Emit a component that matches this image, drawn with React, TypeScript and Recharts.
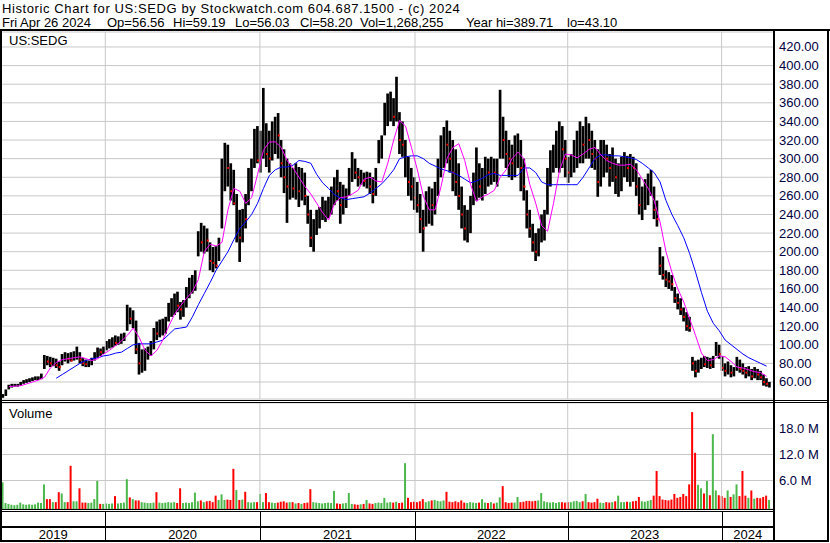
import { ComposedChart, Bar, Line, XAxis, YAxis, CartesianGrid, ReferenceLine } from 'recharts';

// weekly bars, late Apr 2019 -> Apr 26 2024
const weekHigh = [
  47, 52, 57, 58, 58, 58, 60, 62, 63, 64,
  65, 66, 66, 69, 89, 88, 87, 86, 85, 82,
  90, 92, 91, 92, 93, 98, 92, 86, 84, 83,
  86, 92, 97, 96, 98, 104, 106, 108, 110, 109,
  112, 113, 143, 140, 137, 126, 102, 95, 96, 98,
  104, 118, 125, 127, 128, 130, 145, 150, 155, 157,
  146, 148, 162, 172, 175, 180, 222, 231, 228, 225,
  210, 205, 206, 215, 300, 317, 315, 295, 288, 262,
  245, 246, 262, 290, 300, 332, 335, 330, 376, 338,
  330, 340, 345, 349, 320, 310, 300, 295, 290, 295,
  291, 290, 285, 260, 245, 235, 245, 248, 259, 255,
  259, 270, 280, 288, 275, 272, 268, 290, 307, 300,
  290, 288, 285, 286, 285, 280, 290, 320, 325, 360,
  370, 372, 365, 388, 350, 340, 320, 302, 290, 280,
  275, 262, 245, 265, 270, 268, 275, 300, 325, 334,
  341, 330, 320, 310, 295, 270, 250, 245, 260, 285,
  312, 295, 290, 302, 300, 302, 300, 300, 374, 345,
  330, 320, 315, 325, 327, 320, 300, 266, 245, 230,
  220, 225, 240, 245, 290, 309, 315, 330, 340, 335,
  320, 302, 305, 320, 330, 340, 335, 345, 338, 330,
  320, 310, 320, 320, 315, 305, 312, 300, 295, 302,
  307, 303, 305, 302, 295, 280, 270, 278, 284, 288,
  270, 255, 205, 195, 180, 178, 175, 162, 155, 150,
  140, 135, 130, 87, 83, 84, 86, 88, 87, 86,
  88, 103, 100, 88, 80, 82, 78, 76, 87, 84,
  80, 76, 77, 74, 76, 74, 72, 68, 64, 60,
];
const weekLow = [
  43, 45, 52, 54, 55, 55, 56, 58, 59, 60,
  61, 62, 62, 63, 74, 78, 76, 77, 75, 72,
  78, 82, 80, 82, 83, 84, 80, 77, 76, 76,
  78, 83, 86, 88, 90, 94, 96, 97, 99, 100,
  101, 104, 115, 122, 118, 90, 68, 70, 72, 84,
  88, 95, 105, 108, 110, 112, 125, 130, 132, 135,
  127, 130, 140, 150, 155, 158, 195, 200, 198, 200,
  180, 178, 182, 190, 225, 265, 270, 255, 250, 210,
  189, 210, 225, 250, 265, 290, 295, 285, 300, 291,
  285, 298, 305, 300, 280, 263, 231, 256, 258, 256,
  248, 255, 250, 230, 205, 200, 218, 225, 234, 232,
  236, 240, 250, 255, 230, 240, 247, 260, 275, 278,
  270, 272, 270, 268, 262, 252, 260, 295, 300, 325,
  335, 340, 335, 340, 305, 302, 280, 260, 255, 245,
  242, 220, 200, 227, 230, 228, 240, 260, 280, 290,
  295, 285, 265, 260, 245, 225, 212, 210, 220, 250,
  255, 258, 255, 262, 270, 272, 275, 270, 300, 300,
  290, 280, 277, 280, 290, 265, 255, 225, 215, 200,
  190, 195, 210, 212, 240, 270, 285, 290, 285, 290,
  280, 274, 280, 285, 290, 295, 295, 300, 300, 290,
  288, 259, 270, 280, 285, 270, 275, 262, 259, 265,
  280, 275, 270, 275, 260, 240, 234, 245, 250, 260,
  235, 227, 175, 170, 162, 160, 158, 145, 138, 132,
  125, 115, 114, 72, 65, 70, 74, 76, 75, 74,
  75, 88, 85, 72, 66, 68, 65, 66, 72, 70,
  68, 64, 66, 62, 64, 62, 62, 56, 55, 54,
];
const weekClose = [
  45, 50, 56, 56, 56, 57, 59, 60, 62, 62,
  63, 64, 64, 67, 86, 82, 80, 82, 78, 76,
  86, 88, 85, 83, 89, 92, 84, 80, 79, 80,
  84, 90, 94, 92, 95, 100, 103, 104, 102, 104,
  108, 110, 135, 128, 130, 95, 80, 88, 90, 92,
  100, 114, 112, 120, 122, 125, 140, 145, 150, 142,
  138, 145, 158, 165, 170, 175, 215, 210, 220, 212,
  190, 188, 185, 205, 280, 300, 290, 265, 252, 256,
  215, 240, 235, 280, 290, 320, 298, 300, 340, 305,
  300, 320, 330, 325, 295, 280, 270, 285, 268, 280,
  265, 275, 260, 240, 215, 220, 235, 240, 245, 248,
  250, 262, 270, 265, 250, 258, 260, 282, 295, 285,
  280, 282, 276, 280, 270, 262, 285, 310, 318, 345,
  350, 360, 345, 350, 320, 315, 318, 275, 270, 258,
  250, 235, 225, 245, 255, 250, 260, 290, 310, 320,
  315, 300, 285, 275, 260, 240, 225, 230, 250, 270,
  285, 270, 275, 290, 285, 290, 285, 290, 340, 320,
  305, 300, 295, 310, 315, 290, 270, 240, 225, 210,
  200, 215, 225, 235, 280, 295, 300, 315, 320, 310,
  300, 285, 295, 310, 318, 320, 315, 325, 320, 305,
  300, 275, 300, 305, 300, 290, 300, 280, 285, 290,
  295, 290, 295, 290, 270, 250, 255, 265, 270, 275,
  245, 235, 185, 175, 170, 168, 165, 150, 145, 138,
  130, 120, 118, 80, 72, 78, 80, 79, 82, 78,
  85, 98, 90, 75, 72, 76, 70, 72, 82, 74,
  72, 70, 72, 66, 70, 68, 65, 60, 58, 58,
];
// volume in millions of shares
const weekVolume = [
  5.6, 0.8, 0.6, 0.4, 0.3, 0.4, 0.9, 0.5, 0.4, 0.5,
  0.4, 0.5, 0.9, 0.8, 5.1, 1.7, 1.7, 1.0, 1.0, 3.3,
  3.0, 1.0, 1.0, 9.4, 1.2, 1.2, 4.2, 0.9, 0.9, 0.8,
  0.9, 1.7, 5.9, 0.6, 0.6, 0.7, 0.6, 0.7, 2.4, 0.7,
  0.8, 0.9, 6.3, 2.1, 1.7, 1.4, 1.4, 1.0, 0.9, 0.8,
  0.8, 0.9, 3.3, 0.9, 0.8, 0.9, 1.0, 0.9, 1.0, 0.8,
  4.2, 0.8, 0.9, 0.8, 1.0, 3.2, 1.2, 1.4, 1.0, 1.2,
  1.3, 1.0, 2.5, 1.5, 2.8, 1.5, 1.6, 1.5, 8.7, 3.8,
  1.5, 1.6, 3.4, 1.0, 0.9, 1.0, 1.0, 2.9, 1.0, 3.1,
  1.0, 0.9, 0.8, 0.9, 1.1, 1.2, 0.9, 1.0, 1.0, 0.7,
  0.8, 0.6, 0.8, 0.9, 4.0, 1.0, 0.9, 0.8, 0.7, 0.8,
  0.9, 0.8, 3.6, 0.7, 0.6, 0.7, 0.8, 3.1, 0.6, 0.5,
  0.4, 0.5, 0.6, 1.5, 0.7, 0.6, 0.8, 0.9, 0.8, 2.0,
  0.9, 1.0, 0.9, 1.1, 0.8, 0.9, 10.0, 2.0, 1.0, 1.1,
  1.0, 1.2, 1.7, 1.0, 1.2, 1.4, 1.5, 1.3, 1.2, 1.4,
  3.4, 1.1, 1.0, 1.2, 1.0, 1.4, 0.9, 0.8, 1.0, 0.9,
  0.8, 0.9, 1.7, 0.9, 0.8, 1.0, 0.7, 0.9, 2.1, 4.7,
  1.0, 0.8, 0.9, 0.9, 2.2, 1.0, 1.1, 1.3, 1.3, 1.2,
  1.3, 1.4, 3.1, 1.2, 1.0, 0.9, 1.0, 0.8, 1.0, 1.0,
  0.9, 1.0, 1.0, 1.2, 1.3, 1.0, 1.2, 2.9, 1.0, 0.9,
  1.0, 1.8, 0.9, 0.8, 1.0, 0.9, 1.0, 1.2, 2.5, 1.0,
  1.0, 1.1, 1.0, 1.2, 1.3, 2.2, 1.2, 1.1, 1.3, 1.5,
  2.5, 8.2, 2.4, 1.6, 1.5, 1.4, 1.6, 2.9, 2.0, 2.2,
  2.9, 2.4, 5.1, 21.8, 12.4, 5.0, 4.2, 3.0, 5.9, 2.6,
  16.7, 3.7, 2.6, 2.4, 2.0, 3.7, 2.2, 2.8, 5.1, 2.4,
  8.2, 2.5, 2.0, 3.7, 1.8, 2.0, 1.9, 2.2, 2.5, 1.5,
];
// moving averages, read every second week
const maShort = [
  null, 55, 55.5, 56, 58, 60, 62, 65, 75, 81,
  84, 85, 86, 87, 85, 83, 85, 90, 94, 99,
  104, 110, 118, 108, 94, 88, 94, 105, 120, 133,
  142, 150, 157, 170, 200, 208, 206, 210, 245, 268,
  265, 252, 258, 283, 309, 318, 318, 312, 298, 290,
  280, 270, 262, 252, 242, 234, 252, 258, 259, 262,
  266, 278, 280, 276, 275, 295, 320, 341, 335, 312,
  288, 260, 245, 245, 270, 300, 312, 316, 298, 272,
  254, 259, 262, 266, 280, 288, 300, 307, 300, 272,
  252, 228, 222, 252, 287, 305, 304, 301, 305, 310,
  312, 304, 298, 295, 293, 293, 294, 288, 278, 268,
  255, 232, 200, 178, 160, 146, 128, 110, 91, 83,
  84, 88, 87, 82, 76, 75, 73, 71, 70, 66,
];
const maLong = [
  null, null, null, null, null, null, null, null, null, 64,
  68, 72, 76, 80, 83, 85, 86, 88, 89, 91,
  92, 96, 100, 101, 101, 101, 103, 105, 111, 117,
  118, 119, 130, 143, 155, 167, 180, 190, 200, 213,
  225, 232, 240, 252, 268, 282, 288, 291, 291, 293,
  298, 297, 295, 283, 274, 268, 261, 258, 256, 257,
  258, 259, 263, 268, 273, 280, 288, 300, 302, 303,
  303, 300, 295, 292, 289, 287, 285, 282, 278, 274,
  276, 279, 283, 284, 282, 282, 282, 282, 290, 290,
  285, 275, 272, 272, 272, 272, 272, 272, 280, 290,
  300, 304, 304, 303, 303, 302, 301, 299, 295, 290,
  285, 275, 255, 240, 228, 215, 198, 178, 156, 136,
  123, 115, 105, 100, 95, 90, 86, 83, 80, 77,
];

const priceTicks = [60, 80, 100, 120, 140, 160, 180, 200, 220, 240, 260, 280, 300, 320, 340, 360, 380, 400, 420];
const volumeTicks = [6, 12, 18];
const years = ['2019', '2020', '2021', '2022', '2023', '2024'];
// week index where each new calendar year begins
const yearStarts = [34.56, 86.8, 139.2, 190.8, 242.8];
const quoteFields = [
  'Fri Apr 26 2024', 'Op=56.56', 'Hi=59.19', 'Lo=56.03', 'Cl=58.20',
  'Vol=1,268,255', 'Year hi=389.71', 'lo=43.10',
];
const quoteX = [2, 107, 173, 235, 300, 360, 466, 567];

const X_DOMAIN: [number, number] = [-0.68, 260.5];
const PLOT_L = 1;
const PLOT_W = 773;
const RED = '#ff0000';
const GREEN = '#4cb84c';
const GRID = '#c8c8c8';
const FONT = "'Liberation Sans', Arial, sans-serif";

const data = weekHigh.map((h, i) => ({
  i,
  h,
  l: weekLow[i],
  c: weekClose[i],
  v: weekVolume[i],
  up: i === 0 || weekClose[i] >= weekClose[i - 1],
  ms: i % 2 === 0 ? maShort[i / 2] : null,
  mb: i % 2 === 0 ? maLong[i / 2] : null,
}));

const px = (i: number) => PLOT_L + ((i - X_DOMAIN[0]) / (X_DOMAIN[1] - X_DOMAIN[0])) * PLOT_W;

const PriceBar = (props: any) => {
  const { x, y, width, height, payload } = props;
  if (x == null || y == null) return null;
  const top = Math.min(y, y + height);
  const hh = Math.max(Math.abs(height), 1);
  const cy = top + ((payload.h - payload.c) / (payload.h - payload.l)) * hh;
  return (
    <g>
      <rect x={x} y={top} width={width} height={hh} fill="#000" />
      {!payload.up && <rect x={x + 1} y={cy - 1} width={2} height={2} fill={RED} />}
    </g>
  );
};

const VolumeBar = (props: any) => {
  const { x, y, width, height, payload } = props;
  if (x == null || y == null) return null;
  return <rect x={x} y={y} width={width} height={Math.max(height, 0) + 2.5} fill={payload.up ? GREEN : RED} />;
};

const PriceTick = ({ y, payload }: any) => (
  <text x={779} y={y} dy={4.5} fontSize={13} fontFamily={FONT} fill="#000040">
    {Number(payload.value).toFixed(2)}
  </text>
);

const VolumeTick = ({ y, payload }: any) => (
  <text x={779} y={y} dy={4.5} fontSize={13} fontFamily={FONT} fill="#000040">
    {`${Number(payload.value).toFixed(1)} M`}
  </text>
);

export default function App() {
  const bounds = [px(X_DOMAIN[0]), ...yearStarts.map(px), 774];

  return (
    <div style={{ position: 'absolute', left: 0, top: 0, width: 830, height: 543, background: '#fff', fontFamily: FONT }}>
      <div style={{ position: 'absolute', left: 0, top: 0 }}>
        <ComposedChart width={830} height={400} data={data} margin={{ top: 32, right: 0, bottom: 1, left: 1 }}>
          <CartesianGrid vertical={false} stroke={GRID} />
          <XAxis type="number" dataKey="i" domain={X_DOMAIN} hide allowDataOverflow />
          <YAxis
            orientation="right"
            width={56}
            domain={[41.7, 436.1]}
            ticks={priceTicks}
            interval={0}
            allowDataOverflow
            axisLine={false}
            tickLine={false}
            tick={<PriceTick />}
          />
          {yearStarts.map((ys) => (
            <ReferenceLine key={ys} x={ys} stroke={GRID} />
          ))}
          <Bar dataKey={(d: any) => [d.l, d.h]} barSize={3} shape={<PriceBar />} isAnimationActive={false} />
          <Line dataKey="mb" stroke="#0000ff" strokeWidth={1} dot={false} connectNulls isAnimationActive={false} />
          <Line dataKey="ms" stroke="#ff00ff" strokeWidth={1} dot={false} connectNulls isAnimationActive={false} />
        </ComposedChart>
      </div>

      <div style={{ position: 'absolute', left: 0, top: 402 }}>
        <ComposedChart width={830} height={108} data={data} margin={{ top: 1, right: 0, bottom: 1, left: 1 }}>
          <CartesianGrid vertical={false} stroke={GRID} />
          <XAxis type="number" dataKey="i" domain={X_DOMAIN} hide allowDataOverflow />
          <YAxis
            orientation="right"
            width={56}
            domain={[-0.58, 23.9]}
            ticks={volumeTicks}
            interval={0}
            allowDataOverflow
            axisLine={false}
            tickLine={false}
            tick={<VolumeTick />}
          />
          {yearStarts.map((ys) => (
            <ReferenceLine key={ys} x={ys} stroke={GRID} />
          ))}
          <Bar dataKey="v" barSize={2} shape={<VolumeBar />} isAnimationActive={false} />
        </ComposedChart>
      </div>

      <svg width={830} height={543} style={{ position: 'absolute', left: 0, top: 0, pointerEvents: 'none' }}>
        <text x={2} y={12.5} fontSize={13} fontFamily={FONT} fill="#000" letterSpacing={0.6}>
          Historic Chart for US:SEDG by Stockwatch.com 604.687.1500 - (c) 2024
        </text>
        {quoteFields.map((f, k) => (
          <text key={f} x={quoteX[k]} y={26.5} fontSize={13} fontFamily={FONT} fill="#000">
            {f}
          </text>
        ))}
        <text x={9} y={45} fontSize={13} fontFamily={FONT} fill="#000">US:SEDG</text>
        <text x={9} y={418} fontSize={13} fontFamily={FONT} fill="#000">Volume</text>

        {/* frame */}
        <rect x={0} y={29} width={830} height={2} fill="#000" />
        <rect x={0} y={29} width={2} height={513} fill="#000" />
        <rect x={773} y={29} width={2} height={513} fill="#000" />
        <rect x={827} y={29} width={2} height={513} fill="#000" />
        <rect x={0} y={400} width={829} height={1} fill="#000" />
        <rect x={0} y={402} width={829} height={1} fill="#000" />
        <rect x={0} y={509} width={775} height={1} fill="#000" />
        <rect x={0} y={511} width={775} height={1} fill="#000" />
        <rect x={0} y={526} width={775} height={2} fill="#000" />
        <rect x={0} y={540} width={829} height={2} fill="#000" />

        {yearStarts.map((ys) => (
          <rect key={ys} x={Math.round(px(ys))} y={511} width={1} height={30} fill="#000" />
        ))}
        {years.map((yr, k) => (
          <text
            key={yr}
            x={(bounds[k] + bounds[k + 1]) / 2}
            y={539}
            fontSize={13}
            fontFamily={FONT}
            fill="#000"
            textAnchor="middle"
          >
            {yr}
          </text>
        ))}
      </svg>
    </div>
  );
}
